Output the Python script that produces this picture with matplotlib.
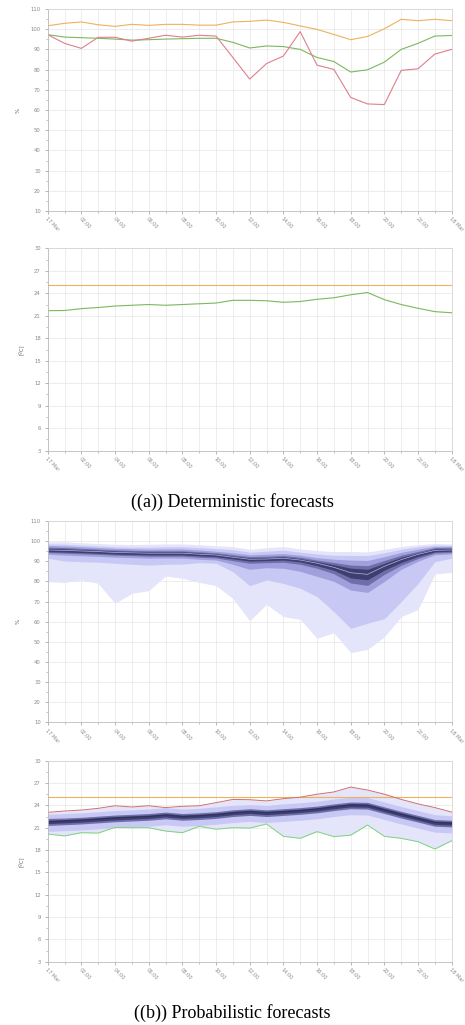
import matplotlib
matplotlib.use("Agg")
import matplotlib.pyplot as plt
from matplotlib.ticker import MultipleLocator, FixedLocator

# ---------------- data ----------------
hours = list(range(25))
xtick_labels = ["17 Mar", "02:00", "04:00", "06:00", "08:00", "10:00", "12:00",
                "14:00", "16:00", "18:00", "20:00", "22:00", "18 Mar"]

# (a) deterministic humidity [%]
hum_orange = [101.7, 102.9, 103.6, 102.2, 101.4, 102.4, 101.9, 102.4, 102.4, 102.0, 102.0, 103.6,
              103.9, 104.5, 103.4, 101.6, 99.9, 97.4, 94.8, 96.4, 100.2, 104.9, 104.2, 104.9, 104.2]
hum_green = [97.3, 96.1, 95.8, 95.5, 95.1, 94.6, 94.8, 95.1, 95.3, 95.5, 95.5, 93.5,
             90.7, 91.7, 91.4, 90.0, 86.0, 84.0, 78.8, 79.9, 83.7, 90.0, 93.0, 96.6, 96.9]
hum_red = [97.3, 93.0, 90.5, 96.0, 96.0, 94.1, 95.5, 97.0, 96.1, 97.0, 96.6, 86.0,
           75.3, 83.0, 86.7, 98.8, 82.2, 80.1, 66.2, 63.0, 62.7, 79.6, 80.4, 87.7, 90.0]

# (a) deterministic temperature [°C]
temp_limit = [25.15] * 25
temp_green = [21.68, 21.7, 21.95, 22.1, 22.3, 22.4, 22.5, 22.4, 22.5, 22.6, 22.7, 23.06,
              23.06, 23.0, 22.8, 22.9, 23.2, 23.4, 23.8, 24.1, 23.15, 22.5, 22.0, 21.55, 21.4]

# (b) probabilistic humidity [%] : envelope and quantile bands
hum_max = [99.7, 99.7, 99.2, 98.8, 98.4, 98.3, 98.4, 98.6, 98.6, 98.2, 97.7, 97.3,
           95.9, 96.7, 97.3, 96.1, 95.3, 94.8, 94.8, 94.6, 95.9, 97.3, 98.2, 98.8, 98.6]
hum_hi2 = [98.6, 98.5, 98.0, 97.6, 97.2, 97.0, 97.0, 97.2, 97.2, 96.8, 96.3, 95.8,
           94.5, 95.0, 95.5, 94.5, 93.6, 93.0, 92.9, 92.8, 94.2, 96.0, 97.2, 98.0, 97.9]
hum_hi3 = [97.8, 97.6, 97.2, 96.8, 96.4, 96.2, 96.0, 96.1, 96.1, 95.6, 95.0, 94.2,
           93.2, 93.5, 93.8, 93.0, 91.8, 91.0, 90.6, 90.4, 92.3, 94.4, 96.0, 97.3, 97.4]
hum_hi4 = [97.0, 96.8, 96.4, 96.0, 95.6, 95.4, 95.2, 95.2, 95.2, 94.7, 94.2, 93.2,
           92.3, 92.5, 92.8, 92.0, 90.6, 89.4, 88.1, 87.8, 90.4, 93.0, 94.9, 96.7, 96.8]
hum_hi5 = [96.4, 96.2, 95.8, 95.5, 95.1, 94.9, 94.7, 94.7, 94.7, 94.2, 93.7, 92.6,
           91.7, 91.8, 92.2, 91.3, 89.8, 88.3, 86.6, 86.0, 89.0, 92.0, 94.1, 96.2, 96.3]
hum_med = [95.6, 95.4, 95.1, 94.8, 94.4, 94.2, 94.0, 94.0, 94.0, 93.5, 93.1, 92.0,
           91.0, 91.1, 91.5, 90.6, 89.0, 87.0, 84.3, 83.5, 87.5, 90.8, 93.4, 95.4, 95.6]
hum_lo5 = [94.8, 94.6, 94.3, 94.0, 93.6, 93.4, 93.2, 93.2, 93.2, 92.7, 92.3, 91.2,
           90.1, 90.3, 90.6, 89.7, 87.8, 85.5, 81.7, 80.8, 85.6, 89.4, 92.4, 94.7, 95.0]
hum_lo4 = [94.3, 94.0, 93.7, 93.4, 93.0, 92.8, 92.5, 92.5, 92.5, 92.0, 91.6, 90.3,
           89.0, 89.3, 89.5, 88.5, 86.5, 83.8, 79.2, 78.0, 83.5, 88.0, 91.4, 94.1, 94.4]
hum_lo3 = [93.5, 93.0, 92.7, 92.4, 92.0, 91.8, 91.5, 91.6, 91.5, 91.0, 90.6, 88.5,
           86.0, 86.8, 86.5, 85.0, 82.5, 80.0, 75.7, 74.5, 80.0, 86.0, 90.0, 93.2, 93.6]
hum_lo2 = [91.5, 90.1, 89.8, 89.5, 89.0, 88.5, 88.1, 88.5, 88.6, 89.3, 89.0, 84.8,
           77.9, 80.7, 79.0, 76.6, 72.4, 65.0, 56.7, 59.2, 61.5, 70.0, 79.0, 89.8, 91.5]
hum_min = [79.9, 79.5, 80.7, 79.0, 69.1, 74.1, 75.4, 82.7, 81.5, 79.5, 77.9, 71.5,
           60.5, 68.6, 62.5, 61.2, 51.7, 54.5, 44.6, 46.2, 52.5, 62.5, 66.0, 83.7, 84.5]

# (b) probabilistic temperature [°C]
temp_max = [23.06, 23.24, 23.37, 23.6, 23.95, 23.78, 23.95, 23.7, 23.87, 23.95, 24.36, 24.8,
            24.76, 24.6, 24.9, 25.1, 25.5, 25.8, 26.46, 26.06, 25.5, 24.8, 24.2, 23.7, 23.1]
temp_hi2 = [22.8, 22.9, 23.0, 23.15, 23.3, 23.4, 23.5, 23.7, 23.5, 23.6, 23.8, 24.0,
            24.1, 24.0, 24.2, 24.35, 24.55, 24.85, 25.1, 25.05, 24.45, 23.85, 23.3, 22.75, 22.6]
temp_hi4 = [22.25, 22.3, 22.4, 22.55, 22.7, 22.8, 22.9, 23.1, 22.9, 23.0, 23.15, 23.4,
            23.55, 23.4, 23.55, 23.7, 23.9, 24.2, 24.45, 24.4, 23.8, 23.2, 22.65, 22.1, 22.0]
temp_hi5 = [22.0, 22.1, 22.2, 22.35, 22.5, 22.6, 22.7, 22.9, 22.7, 22.8, 22.95, 23.2,
            23.35, 23.2, 23.35, 23.5, 23.7, 24.0, 24.25, 24.2, 23.6, 23.0, 22.45, 21.9, 21.8]
temp_med = [21.8, 21.9, 22.0, 22.15, 22.3, 22.4, 22.5, 22.7, 22.5, 22.6, 22.75, 23.0,
            23.15, 23.0, 23.15, 23.3, 23.5, 23.8, 24.05, 24.0, 23.4, 22.8, 22.25, 21.7, 21.6]
temp_lo5 = [21.55, 21.65, 21.75, 21.9, 22.05, 22.15, 22.25, 22.45, 22.25, 22.35, 22.5, 22.75,
            22.9, 22.75, 22.9, 23.05, 23.25, 23.55, 23.8, 23.75, 23.15, 22.55, 22.0, 21.45, 21.35]
temp_lo4 = [21.3, 21.4, 21.5, 21.65, 21.8, 21.9, 22.0, 22.2, 22.0, 22.1, 22.25, 22.5,
            22.65, 22.5, 22.65, 22.8, 23.0, 23.3, 23.55, 23.5, 22.9, 22.3, 21.75, 21.2, 21.1]
temp_lo2 = [20.5, 20.6, 20.7, 20.85, 21.0, 21.1, 21.2, 21.4, 21.2, 21.3, 21.45, 21.7,
            21.85, 21.7, 21.85, 22.0, 22.2, 22.5, 22.75, 22.7, 22.1, 21.5, 20.95, 20.4, 20.3]
temp_min = [20.15, 19.9, 20.33, 20.28, 21.04, 21.0, 21.0, 20.55, 20.33, 21.18, 20.8, 21.0,
            20.95, 21.5, 19.84, 19.57, 20.47, 19.8, 20.0, 21.36, 19.84, 19.57, 19.12, 18.13, 19.25]

captions = ["((a)) Deterministic forecasts", "((b)) Probabilistic forecasts"]

# ---------------- style ----------------
C_ORANGE = "#eeb15c"
C_GREEN = "#7cb85e"
C_RED = "#df7f8c"
C_MAXRED = "#d0706a"
C_MINGREEN = "#7ad67a"
BAND = ["#e4e4fa", "#c8c8f4", "#a0a0dc", "#6e6eaa", "#3e3e70"]

fig = plt.figure(figsize=(4.65, 10.25), dpi=100)
W, H = 465.0, 1025.0
left_px, right_px = 47.7, 451.7
panels_px = [(9, 211), (248.3, 450.7), (521, 722.3), (760.7, 961.7)]


def make_ax(top, bot, hum):
    ax = fig.add_axes([left_px / W, 1 - bot / H, (right_px - left_px) / W, (bot - top) / H])
    ax.set_xlim(0, 24)
    if hum:
        ax.set_ylim(10, 110)
        ax.yaxis.set_major_locator(MultipleLocator(10))
        ax.yaxis.set_minor_locator(MultipleLocator(5))
        ax.set_ylabel("%", fontsize=4, color="#666666", labelpad=7)
    else:
        ax.set_ylim(3, 30)
        ax.yaxis.set_major_locator(MultipleLocator(3))
        ax.yaxis.set_minor_locator(MultipleLocator(1.5))
        ax.set_ylabel("[ºC]", fontsize=4, color="#666666", labelpad=7)
    ax.xaxis.set_major_locator(FixedLocator(list(range(0, 25, 2))))
    ax.xaxis.set_minor_locator(FixedLocator(hours))
    ax.set_xticklabels(xtick_labels, rotation=-45, ha="left", va="top",
                       rotation_mode="anchor", fontsize=3.6, color="#888888")
    ax.tick_params(axis="y", which="major", length=2, width=0.5, color="#999999",
                   labelsize=3.8, labelcolor="#888888", pad=3)
    ax.tick_params(axis="y", which="minor", length=1.2, width=0.5, color="#aaaaaa")
    ax.tick_params(axis="x", which="major", length=2, width=0.5, color="#999999", pad=2)
    ax.tick_params(axis="x", which="minor", length=1.5, width=0.5, color="#aaaaaa")
    ax.grid(True, axis="x", which="both", color="#e6e6e6", lw=0.5)
    ax.grid(True, axis="y", which="major", color="#e6e6e6", lw=0.5)
    ax.set_axisbelow(True)
    for s in ax.spines.values():
        s.set_color("#d4d4d4")
        s.set_linewidth(0.6)
    ax.spines["left"].set_color("#bbbbbb")
    ax.spines["bottom"].set_color("#bbbbbb")
    return ax


# panel 1
ax1 = make_ax(*panels_px[0], hum=True)
ax1.plot(hours, hum_orange, color=C_ORANGE, lw=0.8)
ax1.plot(hours, hum_green, color=C_GREEN, lw=0.8)
ax1.plot(hours, hum_red, color=C_RED, lw=0.8)

# panel 2
ax2 = make_ax(*panels_px[1], hum=False)
ax2.plot(hours, temp_limit, color=C_ORANGE, lw=0.8)
ax2.plot(hours, temp_green, color=C_GREEN, lw=0.8)

# panel 3
ax3 = make_ax(*panels_px[2], hum=True)
ax3.fill_between(hours, hum_min, hum_max, color=BAND[0], lw=0)
ax3.fill_between(hours, hum_lo2, hum_hi2, color=BAND[1], lw=0)
ax3.fill_between(hours, hum_lo3, hum_hi3, color=BAND[2], lw=0)
ax3.fill_between(hours, hum_lo4, hum_hi4, color=BAND[3], lw=0)
ax3.fill_between(hours, hum_lo5, hum_hi5, color=BAND[4], lw=0)
ax3.plot(hours, hum_med, color="#b4b4e0", lw=0.5)

# panel 4
ax4 = make_ax(*panels_px[3], hum=False)
ax4.fill_between(hours, temp_min, temp_max, color=BAND[0], lw=0)
ax4.fill_between(hours, temp_lo2, temp_hi2, color=BAND[1], lw=0)
ax4.fill_between(hours, temp_lo4, temp_hi4, color=BAND[3], lw=0)
ax4.fill_between(hours, temp_lo5, temp_hi5, color=BAND[4], lw=0)
ax4.plot(hours, temp_med, color="#2e2e58", lw=0.6)
ax4.plot(hours, temp_limit, color=C_ORANGE, lw=0.8)
ax4.plot(hours, temp_max, color=C_MAXRED, lw=0.7)
ax4.plot(hours, temp_min, color=C_MINGREEN, lw=0.7)

fig.text(0.5, 1 - 502 / H, captions[0], ha="center", va="center",
         family="Liberation Serif", fontsize=13)
fig.text(0.5, 1 - 1013 / H, captions[1], ha="center", va="center",
         family="Liberation Serif", fontsize=13)

fig.savefig("out.png", dpi=100, facecolor="white")
